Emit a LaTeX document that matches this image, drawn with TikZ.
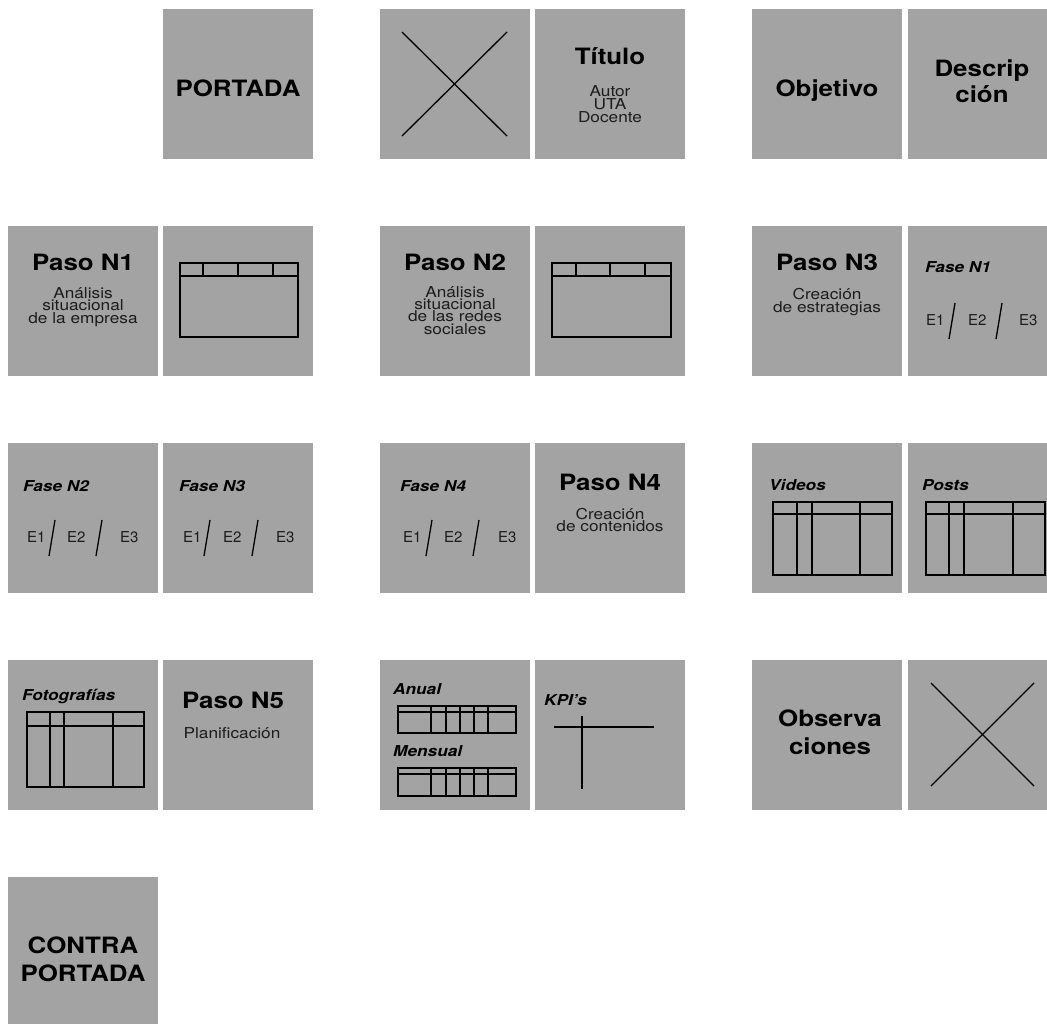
\documentclass[tikz,border=0pt]{standalone}
\usepackage{fontspec}
\newfontfamily\headf[FakeStretch=1.15]{TeX Gyre Heros}
\newfontfamily\lightf[FakeStretch=1.15]{TeX Gyre Heros}
\newfontfamily\ef{TeX Gyre Heros}
\definecolor{tilegray}{RGB}{163,163,163}
\definecolor{textgray}{RGB}{28,28,28}
\tikzset{
  tile/.style={fill=tilegray, draw=none, minimum width=150pt, minimum height=150pt, inner sep=0pt, outer sep=0pt, anchor=north west},
  head/.style={font=\headf\bfseries\fontsize{22.5}{26}\selectfont, anchor=base, inner sep=0pt, text=black, align=center},
  sub/.style={font=\lightf\fontsize{15}{11}\selectfont, anchor=base, inner sep=0pt, text=textgray, align=center},
  lab/.style={font=\headf\bfseries\itshape\fontsize{15}{15}\selectfont, anchor=base west, inner sep=0pt, text=black},
  ee/.style={font=\ef\fontsize{15}{15}\selectfont, anchor=base west, inner sep=0pt, text=textgray},
  gridl/.style={line width=1.5pt, draw=black},
  cross/.style={line width=1.3pt, draw=black},
  slash/.style={line width=1.3pt, draw=black},
}
\newcommand\myEtrio[6]{%
  \node[ee] (#1e1) at (#2,99) {E1};
  \node[ee] (#1e2) at (#4,99) {E2};
  \node[ee] (#1e3) at (#6,99) {E3};
  \coordinate (#1sa) at ({#3+6},77); \coordinate (#1sb) at (#3,113);
  \coordinate (#1sc) at ({#5+6},77); \coordinate (#1sd) at (#5,113);
  \draw[slash] (#1sa) -- (#1sb);
  \draw[slash] (#1sc) -- (#1sd);
}
\begin{document}
\begin{tikzpicture}[x=1pt,y=-1pt]
\useasboundingbox (0,0) rectangle (1047,1023);
\clip (0,0) rectangle (1047,1023);

% ---------------- Row 1 ----------------
\begin{scope}[shift={(163,9)}]
  \node[tile] (tB1) at (0,0) {};
  \node[head] (portada) at (75,87) {PORTADA};
\end{scope}
\begin{scope}[shift={(380,9)}]
  \node[tile] (tC1) at (0,0) {};
  \coordinate (c1a) at (22,23); \coordinate (c1b) at (127,127);
  \coordinate (c1c) at (22,127); \coordinate (c1d) at (127,23);
  \draw[cross] (c1a) -- (c1b); \draw[cross] (c1c) -- (c1d);
\end{scope}
\begin{scope}[shift={(535,9)}]
  \node[tile] (tD1) at (0,0) {};
  \node[head] (titulo) at (75,55) {Título};
  \node[sub, font=\lightf\fontsize{15}{13}\selectfont] (autor) at (75,113.5) {Autor\\UTA\\Docente};
\end{scope}
\begin{scope}[shift={(752,9)}]
  \node[tile] (tE1) at (0,0) {};
  \node[head] (objetivo) at (75,87) {Objetivo};
\end{scope}
\begin{scope}[shift={(908,9)}]
  \node[tile] (tF1) at (0,0) {};
  \node[head] (descrip) at (74,93) {Descrip\\ción};
\end{scope}

% ---------------- Row 2 ----------------
\begin{scope}[shift={(8,226)}]
  \node[tile] (tA2) at (0,0) {};
  \node[head] (paso1) at (75,44) {Paso N1};
  \node[sub] (p1l1) at (75,97) {Análisis\\situacional\\de la empresa};
\end{scope}
\begin{scope}[shift={(163,226)}]
  \node[tile] (tB2) at (0,0) {};
  \draw[gridl] (17,37) rectangle (135,111);
  \draw[gridl] (17,50) -- (135,50);
  \foreach \vx in {40,75,110} \draw[gridl] (\vx,37) -- (\vx,50);
\end{scope}
\begin{scope}[shift={(380,226)}]
  \node[tile] (tC2) at (0,0) {};
  \node[head] (paso2) at (75,44) {Paso N2};
  \node[sub] (p2l1) at (75,108) {Análisis\\situacional\\de las redes\\sociales};
\end{scope}
\begin{scope}[shift={(535,226)}]
  \node[tile] (tD2) at (0,0) {};
  \draw[gridl] (17,37) rectangle (136,111);
  \draw[gridl] (17,50) -- (136,50);
  \foreach \vx in {41,75,110} \draw[gridl] (\vx,37) -- (\vx,50);
\end{scope}
\begin{scope}[shift={(752,226)}]
  \node[tile] (tE2) at (0,0) {};
  \node[head] (paso3) at (75,44) {Paso N3};
  \node[sub, font=\lightf\fontsize{15}{10}\selectfont] (p3l1) at (75,86) {Creación\\de estrategias};
\end{scope}
\begin{scope}[shift={(908,226)}]
  \node[tile] (tF2) at (0,0) {};
  \node[lab] (fase1) at (17,46) {Fase N1};
  \myEtrio{fa}{18}{41}{60}{88}{111}
\end{scope}

% ---------------- Row 3 ----------------
\begin{scope}[shift={(8,443)}]
  \node[tile] (tA3) at (0,0) {};
  \node[lab] (fase2) at (15,48) {Fase N2};
  \myEtrio{fb}{19}{41}{59}{88}{112}
\end{scope}
\begin{scope}[shift={(163,443)}]
  \node[tile] (tB3) at (0,0) {};
  \node[lab] (fase3) at (16,48) {Fase N3};
  \myEtrio{fc}{20}{41}{60}{89}{113}
\end{scope}
\begin{scope}[shift={(380,443)}]
  \node[tile] (tC3) at (0,0) {};
  \node[lab] (fase4) at (20,48) {Fase N4};
  \myEtrio{fd}{23}{46}{64}{93}{118}
\end{scope}
\begin{scope}[shift={(535,443)}]
  \node[tile] (tD3) at (0,0) {};
  \node[head] (paso4) at (75,47) {Paso N4};
  \node[sub] (p4l1) at (75,88.5) {Creación\\de contenidos};
\end{scope}
\begin{scope}[shift={(752,443)}]
  \node[tile] (tE3) at (0,0) {};
  \node[lab] (videos) at (17,47) {Videos};
  \draw[gridl] (21,59) rectangle (140,132);
  \draw[gridl] (21,71) -- (140,71);
  \foreach \vx in {45,60,108} \draw[gridl] (\vx,59) -- (\vx,132);
\end{scope}
\begin{scope}[shift={(908,443)}]
  \node[tile] (tF3) at (0,0) {};
  \node[lab] (posts) at (14,47) {Posts};
  \draw[gridl] (18,59) rectangle (137,132);
  \draw[gridl] (18,71) -- (137,71);
  \foreach \vx in {41,56,105} \draw[gridl] (\vx,59) -- (\vx,132);
\end{scope}

% ---------------- Row 4 ----------------
\begin{scope}[shift={(8,660)}]
  \node[tile] (tA4) at (0,0) {};
  \node[lab] (fotos) at (14,40) {Fotografías};
  \draw[gridl] (19,52) rectangle (136,127);
  \draw[gridl] (19,66) -- (136,66);
  \foreach \vx in {42,56,105} \draw[gridl] (\vx,52) -- (\vx,127);
\end{scope}
\begin{scope}[shift={(163,660)}]
  \node[tile] (tB4) at (0,0) {};
  \node[head] (paso5) at (70,48) {Paso N5};
  \node[sub] (planif) at (69,78) {Planificación};
\end{scope}
\begin{scope}[shift={(380,660)}]
  \node[tile] (tC4) at (0,0) {};
  \node[lab] (anual) at (13,34) {Anual};
  \draw[gridl] (18,46) rectangle (136,73);
  \draw[gridl] (18,52) -- (136,52);
  \foreach \vx in {51,66,80,94,108} \draw[gridl] (\vx,46) -- (\vx,73);
  \node[lab] (mensual) at (13,96) {Mensual};
  \draw[gridl] (18,108) rectangle (136,136);
  \draw[gridl] (18,114) -- (136,114);
  \foreach \vx in {51,66,80,94,108} \draw[gridl] (\vx,108) -- (\vx,136);
\end{scope}
\begin{scope}[shift={(535,660)}]
  \node[tile] (tD4) at (0,0) {};
  \node[lab] (kpis) at (9,45) {KPI’s};
  \coordinate (kh1) at (19,67); \coordinate (kh2) at (119,67);
  \coordinate (kv1) at (47,56); \coordinate (kv2) at (47,129);
  \draw[cross] (kh1) -- (kh2);
  \draw[cross] (kv1) -- (kv2);
\end{scope}
\begin{scope}[shift={(752,660)}]
  \node[tile] (tE4) at (0,0) {};
  \node[head, font=\headf\bfseries\fontsize{22.5}{28}\selectfont] (observa) at (78,94) {Observa\\ciones};
\end{scope}
\begin{scope}[shift={(908,660)}]
  \node[tile] (tF4) at (0,0) {};
  \coordinate (f4a) at (23,23); \coordinate (f4b) at (126,126);
  \coordinate (f4c) at (23,126); \coordinate (f4d) at (126,23);
  \draw[cross] (f4a) -- (f4b); \draw[cross] (f4c) -- (f4d);
\end{scope}

% ---------------- Row 5 ----------------
\begin{scope}[shift={(8,877)}]
  \node[tile] (tA5) at (0,0) {};
  \node[head, font=\headf\bfseries\fontsize{22.5}{28}\selectfont] (contra) at (75,104) {CONTRA\\PORTADA};
\end{scope}
\end{tikzpicture}
\end{document}
